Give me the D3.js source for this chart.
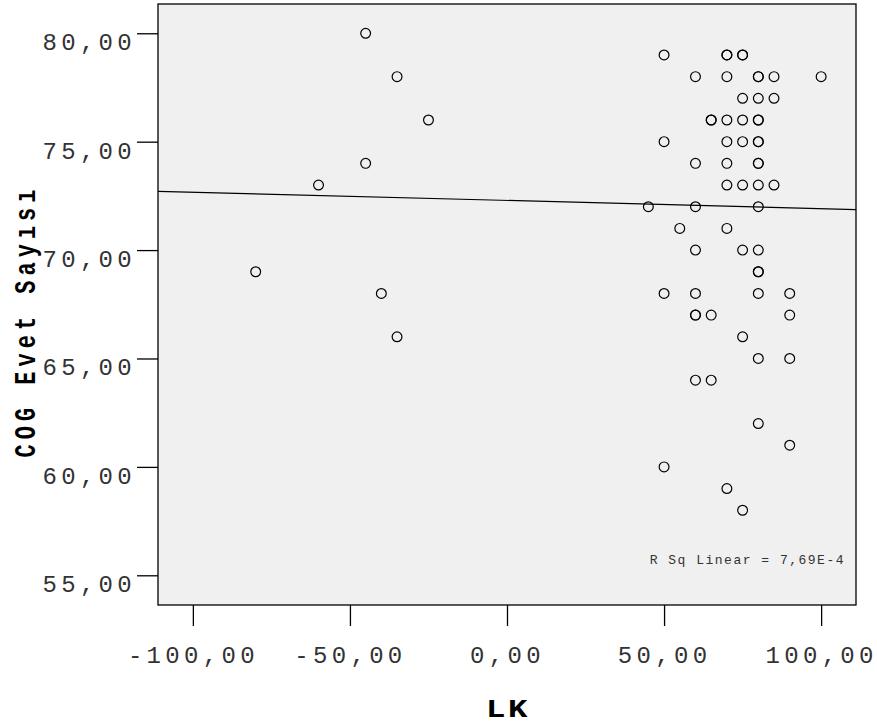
<!DOCTYPE html>
<html>
<head>
<meta charset="utf-8">
<title>COG Evet Sayısı vs LK</title>
<script src="https://d3js.org/d3.v7.min.js"></script>
<style>
body { margin: 0; background: #fff; }
.tick text { font-family: "Liberation Mono", "Courier New", monospace; font-size: 24px; letter-spacing: 4.3px; fill: #333; }
.tick line { stroke: #000; stroke-width: 1.3px; }
.title { font-family: "Liberation Mono", "Courier New", monospace; font-weight: bold; font-size: 22px; fill: #000; }
.rsq { font-family: "Liberation Mono", "Courier New", monospace; font-size: 13px; letter-spacing: 1.5px; fill: #333; }
</style>
</head>
<body>
<div id="chart"></div>
<script>
var width = 877,
    height = 726;

// LK values and the matching COG Evet Sayisi values (overlapping cases listed twice)
var lk  = [-45, -35, -25, -45, -60, -80, -40, -35,
           50, 70, 70, 75, 75,
           60, 70, 80, 80, 85, 100,
           75, 80, 85,
           65, 65, 70, 75, 80, 80,
           50, 70, 75, 80, 80,
           60, 70, 80, 80,
           70, 75, 80, 85,
           45, 60, 80,
           55, 70,
           60, 75, 80,
           80, 80,
           50, 60, 80, 90,
           60, 60, 65, 90,
           75,
           80, 90,
           60, 65,
           80, 90, 50, 70, 75];
var cog = [80, 78, 76, 74, 73, 69, 68, 66,
           79, 79, 79, 79, 79,
           78, 78, 78, 78, 78, 78,
           77, 77, 77,
           76, 76, 76, 76, 76, 76,
           75, 75, 75, 75, 75,
           74, 74, 74, 74,
           73, 73, 73, 73,
           72, 72, 72,
           71, 71,
           70, 70, 70,
           69, 69,
           68, 68, 68, 68,
           67, 67, 67, 67,
           66,
           65, 65,
           64, 64,
           62, 61, 60, 59, 58];

// linear fit as shown on the chart
var fitIntercept = 72.29;
var fitSlope = -0.00378;

var xTicks = [-100, -50, 0, 50, 100];
var yTicks = [55, 60, 65, 70, 75, 80];
var xTitle = "LK";
var yTitle = "COG Evet Sayısı";
var rsqLabel = "R Sq Linear = 7,69E-4";

var plot = {left: 158, right: 856, top: 4, bottom: 605};

var fmt = d3.formatLocale({decimal: ",", thousands: ".", grouping: [3], currency: ["", ""], minus: "-"}).format(".2f");

var svg = d3.select("#chart")
    .append("svg")
    .attr("width", width)
    .attr("height", height);

var x = d3.scaleLinear()
    .domain([-111.1, 111.1])
    .range([plot.left, plot.right]);

var y = d3.scaleLinear()
    .domain([53.63, 81.35])
    .range([plot.bottom, plot.top]);

svg.append("rect")
    .attr("x", plot.left)
    .attr("y", plot.top)
    .attr("width", plot.right - plot.left)
    .attr("height", plot.bottom - plot.top)
    .attr("fill", "#f0f0f0")
    .attr("stroke", "#000")
    .attr("stroke-width", 1.3);

var xAxis = d3.axisBottom(x).tickValues(xTicks).tickFormat(fmt)
    .tickSize(21).tickSizeOuter(0).tickPadding(20);
var yAxis = d3.axisLeft(y).tickValues(yTicks).tickFormat(fmt)
    .tickSize(21).tickSizeOuter(0).tickPadding(1);

var gX = svg.append("g")
    .attr("transform", "translate(0," + plot.bottom + ")")
    .call(xAxis);
gX.select(".domain").remove();
gX.selectAll("text").attr("fill", null);

var gY = svg.append("g")
    .attr("transform", "translate(" + plot.left + ",0)")
    .call(yAxis);
gY.select(".domain").remove();
gY.selectAll("text").attr("fill", null).attr("dy", "0.68em");

var xd = x.domain();
svg.append("line")
    .attr("x1", x(xd[0]))
    .attr("y1", y(fitIntercept + fitSlope * xd[0]))
    .attr("x2", x(xd[1]))
    .attr("y2", y(fitIntercept + fitSlope * xd[1]))
    .attr("stroke", "#000")
    .attr("stroke-width", 1.2);

svg.selectAll(".dot")
    .data(lk.map((d, i) => [d, cog[i]]))
    .enter()
    .append("circle")
    .attr("class", "dot")
    .attr("cx", d => x(d[0]))
    .attr("cy", d => y(d[1]))
    .attr("r", 4.9)
    .attr("fill", "none")
    .attr("stroke", "#000")
    .attr("stroke-width", 1.2);

svg.append("text")
    .attr("class", "rsq")
    .attr("x", plot.right - 11)
    .attr("y", 564)
    .attr("text-anchor", "end")
    .text(rsqLabel);

// titles are drawn stretched sideways, like the original export
svg.append("text")
    .attr("class", "title")
    .attr("transform", "translate(" + ((plot.left + plot.right) / 2 + 1) + ",717) scale(1.3,1)")
    .attr("text-anchor", "middle")
    .style("font-size", "25px")
    .style("letter-spacing", "2px")
    .text(xTitle);

svg.append("text")
    .attr("class", "title")
    .attr("transform", "translate(35,321) rotate(-90) scale(1,1.35)")
    .attr("text-anchor", "middle")
    .style("letter-spacing", "5px")
    .text(yTitle);
</script>
</body>
</html>
